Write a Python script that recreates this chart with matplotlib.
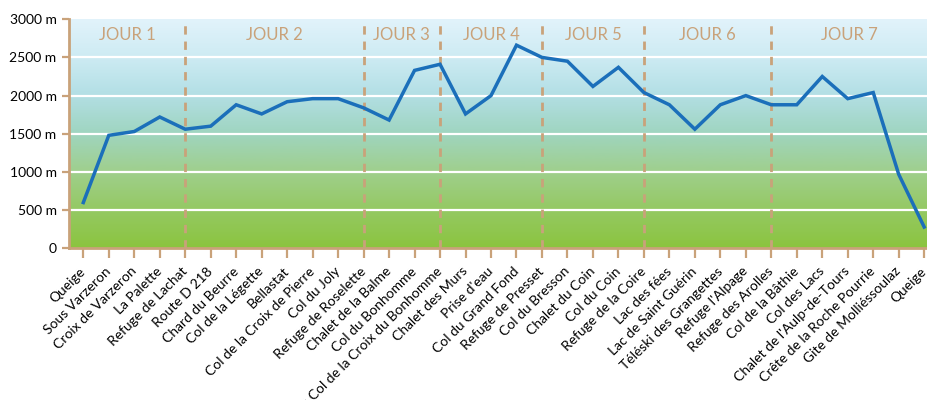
import numpy as np
import matplotlib
matplotlib.use('Agg')
import matplotlib.pyplot as plt
import matplotlib.transforms as mtransforms
from matplotlib.colors import LinearSegmentedColormap

plt.rcParams['font.family'] = ['Lato', 'DejaVu Sans']

# étapes du tour
etapes = ['Queige', 'Sous Varzeron', 'Croix de Varzeron', 'La Palette', 'Refuge de Lachat',
          'Route D 218', 'Chard du Beurre', 'Col de la Légette', 'Bellastat',
          'Col de la Croix de Pierre', 'Col du Joly', 'Refuge de Roselette',
          'Chalet de la Balme', 'Col du Bonhomme', 'Refuge du Col de la Croix du Bonhomme',
          'Chalet des Murs', "Prise d'eau", 'Col du Grand Fond', 'Refuge de Presset',
          'Col du Bresson', 'Chalet du Coin', 'Col du Coin', 'Refuge de la Coire',
          'Lac des fées', 'Lac de Saint Guérin', 'Téléski des Grangettes', "Refuge l'Alpage",
          'Refuge des Arolles', 'Col de la Bâthie', 'Col des Lacs', "Chalet de l'Aulp-de-Tours",
          'Crête de la Roche Pourrie', 'Gite de Molliéssoulaz', 'Queige']
altitudes = [600, 1480, 1530, 1720, 1560, 1600, 1880, 1760, 1920, 1960, 1960, 1840,
             1680, 2330, 2410, 1760, 2000, 2660, 2500, 2450, 2120, 2370, 2040, 1880,
             1560, 1880, 2000, 1880, 1880, 2250, 1960, 2040, 970, 280]
# index des refuges en fin de journée
fins_jour = [4, 11, 14, 18, 22, 27]
jours = ['JOUR 1', 'JOUR 2', 'JOUR 3', 'JOUR 4', 'JOUR 5', 'JOUR 6', 'JOUR 7']
yticks = [0, 500, 1000, 1500, 2000, 2500, 3000]
ylabels = ['0', '500 m', '1000 m', '1500 m', '2000 m', '2500 m', '3000 m']

tan = '#c9a27a'
x = np.arange(len(etapes))
xmin, xmax = -0.56, len(etapes) - 1 + 0.15

fig = plt.figure(figsize=(9.28, 4.0), dpi=100)
ax = fig.add_axes([0.0744, 0.379, 0.9256, 0.573])

# fond dégradé
cmap = LinearSegmentedColormap.from_list('fond', [
    (0.0, '#8bc43f'), (0.17, '#95c964'), (0.33, '#9fcf8c'), (0.5, '#9fd5c0'),
    (0.67, '#b3dfe5'), (0.83, '#cdebf3'), (1.0, '#e2f3fb')])
grad = np.linspace(0, 1, 256).reshape(-1, 1)
ax.imshow(grad, cmap=cmap, aspect='auto', origin='lower',
          extent=[xmin, xmax, 0, 3000], zorder=0)

for v in yticks[1:-1]:
    ax.axhline(v, color='white', lw=1.6, zorder=1)

for i in fins_jour:
    ax.axvline(i, color=tan, lw=2, ls=(0, (3, 2.5)), zorder=2)

bornes = [xmin] + fins_jour + [xmax]
for k, j in enumerate(jours):
    ax.text((bornes[k] + bornes[k + 1]) / 2, 2790, j, color=tan, fontsize=12,
            ha='center', va='center', zorder=3)

ax.plot(x, altitudes, color='#1b6fba', lw=2.5, zorder=4, solid_joinstyle='miter')

ax.set_xlim(xmin, xmax)
ax.set_ylim(0, 3000)
ax.set_yticks(yticks)
ax.set_yticklabels(ylabels, fontsize=10)
ax.set_xticks(x)
ax.set_xticklabels(etapes, rotation=45, ha='right', rotation_mode='anchor', fontsize=10)
ax.tick_params(axis='x', length=7, width=1.6, color=tan, pad=5)
ax.tick_params(axis='y', length=5, width=1.6, color=tan, pad=4)
# petit décalage vers la gauche des étiquettes
decal = mtransforms.ScaledTranslation(-3 / 72, 0, fig.dpi_scale_trans)
for lab in ax.get_xticklabels():
    lab.set_transform(lab.get_transform() + decal)
for s in ['top', 'right']:
    ax.spines[s].set_visible(False)
for s in ['left', 'bottom']:
    ax.spines[s].set_color(tan)
    ax.spines[s].set_linewidth(2)

fig.savefig('out.png', dpi=100)
